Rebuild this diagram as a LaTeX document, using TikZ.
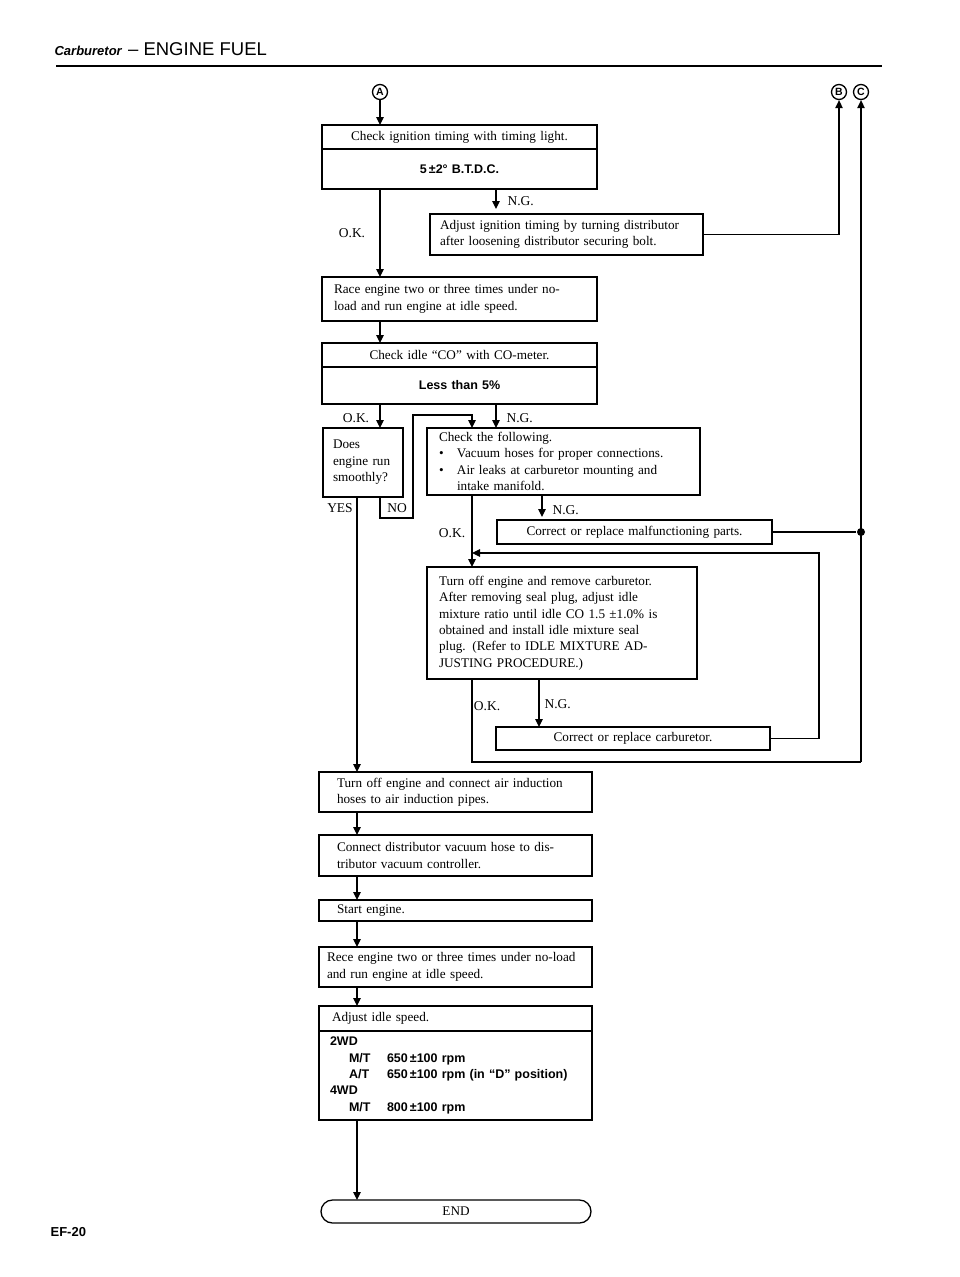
\documentclass[tikz,border=0pt]{standalone}
\usepackage{fontspec}
\setmainfont{Liberation Serif}
\setsansfont{Liberation Sans}
\usetikzlibrary{arrows.meta}

\newcommand{\speedrow}[2]{\hspace*{19pt}\makebox[38pt][l]{#1}#2}
\newcommand{\itm}[1]{\makebox[18pt][l]{\textbullet}#1}

\begin{document}
\begin{tikzpicture}[x=1pt,y=-1pt,line width=1.2pt,
  box/.style={draw, line width=1.3pt, anchor=north west, outer sep=0pt,
    inner xsep=10pt, inner ysep=0pt, align=left,
    font=\fontsize{13.2}{16.5}\selectfont},
  heavy/.style={line width=2.8pt},
  val/.style={font=\fontsize{12.5}{16.3}\sffamily\bfseries},
  lbl/.style={font=\fontsize{13.5}{15}\selectfont, inner sep=1pt},
  letter/.style={circle, draw, line width=1.3pt, inner sep=0pt, minimum size=15pt,
    font=\fontsize{10.5}{10.5}\sffamily\bfseries},
  junction/.style={circle, fill, inner sep=0pt, minimum size=8pt},
  arr/.style={-{Triangle[length=8pt,width=7.5pt]}}]
\useasboundingbox (0,0) rectangle (960,1277);

\node[anchor=base west, inner sep=0pt, font=\fontsize{13}{14}\sffamily\bfseries\itshape]
  (part) at (54,55) {Carburetor};
\node[anchor=base west, inner sep=0pt, font=\fontsize{18.5}{19}\sffamily]
  (sect) at (part.base east) {\ – ENGINE\ FUEL};
\draw[line width=2.8pt] (56,66) -- (882,66);
\node[anchor=west, inner sep=0pt, font=\fontsize{13}{14}\sffamily\bfseries]
  (page) at (50,1232) {EF-20};

\node[letter] (A) at (380,92) {A};
\node[letter] (B) at (839,92) {B};
\node[letter] (C) at (861,92) {C};

\coordinate (xy)   at (357,0);
\coordinate (ngx)  at (496,0);
\coordinate (xok)  at (472,0);
\coordinate (xng2) at (542,0);
\coordinate (xng3) at (539,0);
\coordinate (cbot) at (861,762);
\coordinate (loop) at (819,553);

\node[box, text width=255pt, minimum height=24pt, align=center] (tim) at (322,125)
  {Check ignition timing with timing light.};
\node[box, val, text width=255pt, minimum height=40pt, align=center] (timval) at (322,149)
  {5\,±2° B.T.D.C.};
\draw[heavy] (tim.north west) rectangle (timval.south east);

\node[box, text width=253pt, minimum height=41pt] (adj) at (430,214)
  {Adjust ignition timing by turning distributor\\after loosening distributor securing bolt.};
\node[box, inner xsep=12pt, text width=251pt, minimum height=44pt] (race) at (322,277)
  {Race engine two or three times under no-\\load and run engine at idle speed.};

\node[box, text width=255pt, minimum height=24pt, align=center] (co) at (322,343)
  {Check idle ``CO'' with CO-meter.};
\node[box, val, text width=255pt, minimum height=37pt, align=center] (coval) at (322,367)
  {Less than 5\%};
\draw[heavy] (co.north west) rectangle (coval.south east);

\node[box, inner xsep=10pt, text width=60pt, minimum height=69pt] (does) at (323,428)
  {Does\\engine run\\smoothly?};
\node[box, inner xsep=12pt, text width=249pt, minimum height=67pt] (check) at (427,428)
  {Check the following.\\\itm{Vacuum hoses for proper connections.}\\
   \itm{Air leaks at carburetor mounting and}\\\hspace*{18pt}intake manifold.};
\node[box, text width=255pt, minimum height=24pt, align=center] (mal) at (497,520)
  {Correct or replace malfunctioning parts.};
\node[box, inner xsep=12pt, text width=246pt, minimum height=112pt] (rem) at (427,567)
  {Turn off engine and remove carburetor.\\After removing seal plug, adjust idle\\
   mixture ratio until idle CO 1.5 ±1.0\% is\\obtained and install idle mixture seal\\
   plug. (Refer to IDLE MIXTURE AD-\\JUSTING PROCEDURE.)};
\node[box, text width=254pt, minimum height=23pt, align=center] (carb) at (496,727)
  {Correct or replace carburetor.};

\node[box, inner xsep=18pt, text width=237pt, minimum height=40pt] (air) at (319,772)
  {Turn off engine and connect air induction\\hoses to air induction pipes.};
\node[box, inner xsep=18pt, text width=237pt, minimum height=41pt] (vac) at (319,835)
  {Connect distributor vacuum hose to dis-\\tributor vacuum controller.};
\node[box, inner xsep=18pt, text width=237pt, minimum height=21pt] (startup) at (319,900)
  {Start engine.};
\node[box, inner xsep=8pt, text width=257pt, minimum height=40pt] (rece) at (319,947)
  {Rece engine two or three times under no-load\\and run engine at idle speed.};
\node[box, inner xsep=13pt, text width=247pt, minimum height=25pt] (idl) at (319,1006)
  {Adjust idle speed.};
\node[box, val, inner xsep=11pt, text width=251pt, minimum height=89pt] (idlval) at (319,1031)
  {2WD\\\speedrow{M/T}{650\,±100 rpm}\\\speedrow{A/T}{650\,±100 rpm (in ``D'' position)}\\
   4WD\\\speedrow{M/T}{800\,±100 rpm}};
\draw[heavy] (idl.north west) rectangle (idlval.south east);
\node[box, text width=250pt, minimum height=23pt, align=center, rounded corners=11.5pt]
  (finish) at (321,1200) {END};

\draw[arr] (A) -- (A |- tim.north);
\draw[arr] (A |- timval.south) -- (A |- race.north);
\node[lbl] (ok1) at (352,233) {O.K.};
\draw[arr, shorten >=5pt] (timval.south -| ngx) -- (ngx |- adj.north);
\node[lbl, anchor=west] (ng1) at (506,201) {N.G.};
\draw[arr] (adj.east) -- (adj.east -| B) -- (B.south);

\draw[arr] (A |- race.south) -- (A |- co.north);
\draw[arr] (A |- coval.south) -- (A |- does.north);
\node[lbl] (ok2) at (356,418) {O.K.};
\draw[arr] (coval.south -| ngx) -- (ngx |- check.north);
\node[lbl, anchor=west] (ng2) at (505,418) {N.G.};

\draw[arr] (does.south -| A) -- ++(0,21) -- ++(33,0) -- ++(0,-103) -| (xok |- check.north);
\draw[arr] (does.south -| xy) -- (xy |- air.north);
\node[lbl] (yes) at (340,508) {YES};
\node[lbl] (no) at (397,508) {NO};

\draw[arr] (check.south -| xok) -- (xok |- rem.north);
\node[lbl] (ok3) at (452,533) {O.K.};
\draw[arr, shorten >=3pt] (check.south -| xng2) -- (xng2 |- mal.north);
\node[lbl, anchor=west] (ng3) at (551,510) {N.G.};
\node[junction] (jn) at (mal.east -| C) {};
\draw (mal.east) -- (jn);
\draw[arr] (cbot) -- (C.south);

\draw (rem.south -| xok) |- (cbot);
\node[lbl] (ok4) at (487,706) {O.K.};
\draw[arr] (rem.south -| xng3) -- (xng3 |- carb.north);
\node[lbl, anchor=west] (ng4) at (543,704) {N.G.};
\draw[arr] (carb.east) -| (loop) -- (loop -| xok);

\foreach \u/\v in {air/vac, vac/startup, startup/rece, rece/idl}
  \draw[arr] (\u.south -| xy) -- (xy |- \v.north);
\draw[arr] (idlval.south -| xy) -- (xy |- finish.north);
\end{tikzpicture}
\end{document}
